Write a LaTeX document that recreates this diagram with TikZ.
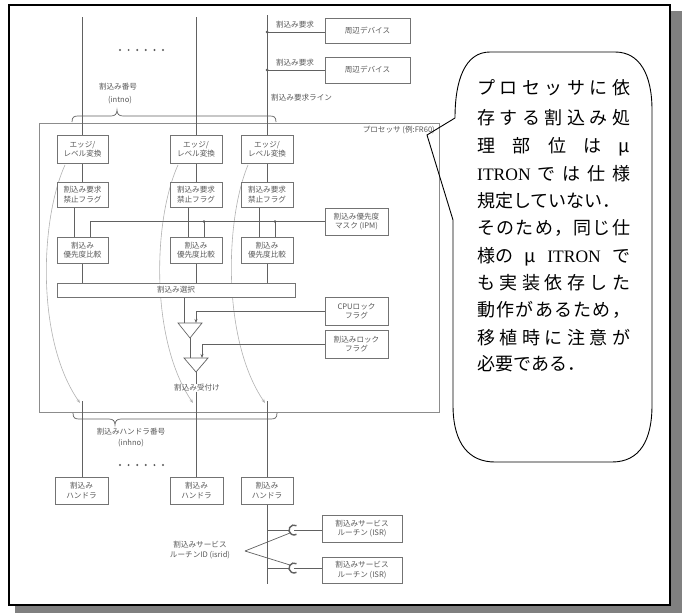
\documentclass[tikz,border=0pt]{standalone}
\usepackage{fontspec}
\setmainfont{Liberation Serif}
\newfontfamily\jp{Noto Sans CJK JP}
\newfontfamily\lat{Liberation Serif}
\usetikzlibrary{arrows.meta,calc}
\newcommand\jl[1]{\makebox[153pt][s]{\jlA#1\relax}}
\def\jlA#1{#1\jlB}
\def\jlB#1{\ifx\relax#1\else\hfil#1\expandafter\jlB\fi}
\tikzset{
 ln/.style={draw=black!62, line width=0.7pt},
 bx/.style={draw=black!55, line width=1pt, fill=white, inner sep=0pt, align=center,
   font=\jp\fontsize{7.6}{9.4}\selectfont, text=black!65},
 lb/.style={inner sep=0pt, font=\jp\fontsize{7.6}{9.4}\selectfont, text=black!65, align=center},
 gc/.style={draw=black!30, line width=0.6pt, -{Stealth[length=4pt,width=3pt]}},
 ar/.style={ln, -{Stealth[length=4pt,width=3pt]}},
 ct/.style={anchor=base west, inner sep=0pt, font=\jp\fontsize{18}{20}\selectfont},
 dotm/.style={fill=black!65},
}
\begin{document}
\begin{tikzpicture}[x=1pt,y=-1pt]
\useasboundingbox (0,0) rectangle (682,613);
% frame with shadow
\fill[black!50] (15,11) rectangle (682,613);
\filldraw[fill=white,draw=black,line width=2pt] (9,5) rectangle (670,605);

% processor box
\node[draw=black!45, line width=1pt, minimum width=400pt, minimum height=289pt, inner sep=0pt] (proc) at (239,267.5) {};
\node[lb, anchor=east] (proclb) at (435,130) {プロセッサ (例:FR60)};

% gray curves
\coordinate (g1s) at (65,165);  \coordinate (g1e) at (80,403);
\coordinate (g2s) at (178,165); \coordinate (g2e) at (193,403);
\coordinate (g3s) at (248,165); \coordinate (g3e) at (265,403);
\draw[gc] (g1s) .. controls (40,220) and (36,340) .. (g1e);
\draw[gc] (g2s) .. controls (153,220) and (150,340) .. (g2e);
\draw[gc] (g3s) .. controls (225,220) and (222,340) .. (g3e);

% top lines
\coordinate (t1) at (82.5,17);
\coordinate (t2) at (196,17);
\coordinate (t3) at (267,15);

% devices
\node[bx, minimum width=85pt, minimum height=25pt] (d1) at (367.5,30.5) {周辺デバイス};
\node[bx, minimum width=85pt, minimum height=26pt] (d2) at (367.5,70) {周辺デバイス};
\coordinate (j1) at (267,32);
\coordinate (j2) at (267,70);
\draw[ln] (d1.west |- j1) -- (j1);
\draw[ln] (d2.west |- j2) -- (j2);
\fill[dotm] (j1) circle (1.5pt);
\fill[dotm] (j2) circle (1.5pt);
\node[lb] (rq1) at (295,25) {割込み要求};
\node[lb] (rq2) at (295,63) {割込み要求};
\node[lb, anchor=west] (rqline) at (271,98) {割込み要求ライン};

% dots top / bottom
\foreach \i in {0,...,5} {
  \fill[dotm] (120+8.6*\i,50) circle (1.1pt);
  \fill[dotm] (120+8.6*\i,465) circle (1.1pt);
}

% interrupt number label + brace
\node[lb] (intno) at (118,87) {割込み番号};
\node[lb] (intnob) at (120,100) {(intno)};
\draw[ln] (72,122) .. controls (72,117) and (74,116) .. (78,116) -- (111,116)
  .. controls (115,116) and (117,114) .. (117,110)
  .. controls (117,114) and (119,116) .. (123,116) -- (270,116)
  .. controls (274,116) and (276,117) .. (276,122);

% edge/level boxes
\node[bx, minimum width=51pt, minimum height=28pt] (e1) at (82.5,149) {エッジ/\\レベル変換};
\node[bx, minimum width=52pt, minimum height=28pt] (e2) at (196,149) {エッジ/\\レベル変換};
\node[bx, minimum width=52pt, minimum height=28pt] (e3) at (267,149) {エッジ/\\レベル変換};
\draw[ln] (t1) -- (e1.north);
\draw[ln] (t2) -- (e2.north);
\draw[ln] (t3) -- (e3.north);

% flag boxes
\node[bx, minimum width=51pt, minimum height=25pt] (f1) at (82.5,194.5) {割込み要求\\禁止フラグ};
\node[bx, minimum width=52pt, minimum height=25pt] (f2) at (196,194.5) {割込み要求\\禁止フラグ};
\node[bx, minimum width=52pt, minimum height=25pt] (f3) at (267,194.5) {割込み要求\\禁止フラグ};
\draw[ln] (e1) -- (f1);
\draw[ln] (e2) -- (f2);
\draw[ln] (e3) -- (f3);

% compare boxes
\node[bx, minimum width=51pt, minimum height=26pt] (p1) at (82.5,250) {割込み\\優先度比較};
\node[bx, minimum width=52pt, minimum height=26pt] (p2) at (196,250) {割込み\\優先度比較};
\node[bx, minimum width=52pt, minimum height=26pt] (p3) at (267,250) {割込み\\優先度比較};
\draw[ln] (f1.south -| 74,0) -- (p1.north -| 74,0);
\draw[ln] (f2.south -| 188,0) -- (p2.north -| 188,0);
\draw[ln] (f3.south -| 259,0) -- (p3.north -| 259,0);

% IPM
\node[bx, minimum width=63pt, minimum height=27pt] (ipm) at (356.5,221.5) {割込み優先度\\マスク (IPM)};
\coordinate (m0) at (90,221.5);
\coordinate (m2) at (204,221.5);
\coordinate (m3) at (275,221.5);
\draw[ln] (ipm.west) -- (m0) -- (p1.north -| m0);
\draw[ln] (m2) -- (p2.north -| m2);
\draw[ln] (m3) -- (p3.north -| m3);
\fill[dotm] (m2) circle (1.4pt);
\fill[dotm] (m3) circle (1.4pt);

% selection bar
\node[bx, minimum width=238pt, minimum height=14pt] (sel) at (176,290) {割込み選択};
\draw[ln] (p1) -- (p1 |- sel.north);
\draw[ln] (p2) -- (p2 |- sel.north);
\draw[ln] (p3) -- (p3 |- sel.north);

% lock flags
\node[bx, minimum width=63pt, minimum height=28pt] (cpu) at (356.5,311) {CPUロック\\フラグ};
\node[bx, minimum width=63pt, minimum height=28pt] (lf) at (356.5,344) {割込みロック\\フラグ};

% gates
\coordinate (a1l) at (178,323); \coordinate (a1r) at (202,323); \coordinate (a1) at (190,338);
\coordinate (a2l) at (184,358); \coordinate (a2r) at (208,358); \coordinate (a2) at (196,372);
\draw[ln] (a1l) -- (a1r) -- (a1) -- cycle;
\draw[ln] (a2l) -- (a2r) -- (a2) -- cycle;
\draw[ln] (sel.south -| 184,0) -- (184,323);
\draw[ar] (cpu.west) -- (196,311) -- (196,323);
\draw[ar] (lf.west) -- (202,344) -- (202,358);
\draw[ln] (a1) -- (190,358);
\node[lb] (acc) at (197,388) {割込み受付け};
\draw[ln] (a2) -- (acc.north -| a2);

% handler number brace
\draw[ln] (73,413) .. controls (73,418) and (75,419) .. (79,419) -- (109,419)
  .. controls (113,419) and (115,421) .. (115,425)
  .. controls (115,421) and (117,419) .. (121,419) -- (271,419)
  .. controls (275,419) and (277,418) .. (277,413);
\node[lb] (inhno) at (131,432) {割込みハンドラ番号};
\node[lb] (inhnob) at (131,443) {(inhno)};

% handlers
\node[bx, minimum width=53pt, minimum height=27pt] (h1) at (81.5,490.5) {割込み\\ハンドラ};
\node[bx, minimum width=53pt, minimum height=27pt] (h2) at (196.5,490.5) {割込み\\ハンドラ};
\node[bx, minimum width=52pt, minimum height=27pt] (h3) at (267,490.5) {割込み\\ハンドラ};
\coordinate (b1) at (82.5,401);
\coordinate (b3) at (267,401);
\draw[ln] (b1) -- (h1.north -| b1);
\draw[ln] (acc.south -| a2) -- (h2.north -| a2);
\draw[ln] (b3) -- (h3.north);

% ISR
\coordinate (bend) at (267,584);
\draw[ln] (h3.south) -- (bend);
\node[bx, minimum width=80pt, minimum height=27pt] (isr1) at (362,528.5) {割込みサービス\\ルーチン (ISR)};
\node[bx, minimum width=80pt, minimum height=26pt] (isr2) at (362,570) {割込みサービス\\ルーチン (ISR)};
\coordinate (c1) at (294,530);
\coordinate (c2) at (294,568);
\draw[ln] (267,530) -- ($(c1)+(-5,0)$);
\draw[ln] (267,568) -- ($(c2)+(-5,0)$);
\draw[ln] (c1) -- (isr1.west |- c1);
\draw[ln] (c2) -- (isr2.west |- c2);
\draw[black!62, line width=1.4pt] (c1) ++(60:5pt) arc[start angle=60, end angle=300, radius=5pt];
\draw[black!62, line width=1.4pt] (c2) ++(60:5pt) arc[start angle=60, end angle=300, radius=5pt];
\node[lb] (isrid) at (200,550) {割込みサービス\\ルーチンID (isrid)};
\coordinate (iv) at (245,551);
\draw[ln] (iv) -- ($(c1)+(-4,3)$);
\draw[ln] (iv) -- ($(c2)+(-4,-3)$);

% callout
\draw[black, line width=0.9pt] (455,118) -- (427,135) -- (453,220) -- (453,405)
  .. controls (453,445) and (470,462) .. (495,462) -- (612,462)
  .. controls (640,462) and (652,440) .. (652,405) -- (652,110)
  .. controls (652,75) and (640,52) .. (615,52) -- (490,52)
  .. controls (465,52) and (455,80) .. (455,118);
\node[ct] (l1) at (477,94) {\jl{プロセッサに依}};
\node[ct] (l2) at (477,124) {\jl{存する割込み処}};
\node[ct] (l3) at (477,152) {\makebox[153pt][s]{理\hfil 部\hfil 位\hfil は\hfil μ}};
\node[ct] (l4) at (477,180) {\makebox[153pt][s]{{\lat\fontsize{17.5}{20}\selectfont ITRON}\hfil で\hfil は\hfil 仕\hfil 様}};
\node[ct] (l5) at (477,207) {規定していない．};
\node[ct] (l6) at (477,234) {\jl{そのため，同じ仕}};
\node[ct] (l7) at (477,262) {\makebox[153pt][s]{様の\hfil μ\hfil{\lat\fontsize{17.5}{20}\selectfont ITRON}\hfil で}};
\node[ct] (l8) at (477,289) {\jl{も実装依存した}};
\node[ct] (l9) at (477,316) {\jl{動作があるため，}};
\node[ct] (l10) at (477,344) {\jl{移植時に注意が}};
\node[ct] (l11) at (477,370) {必要である．};
\end{tikzpicture}
\end{document}
